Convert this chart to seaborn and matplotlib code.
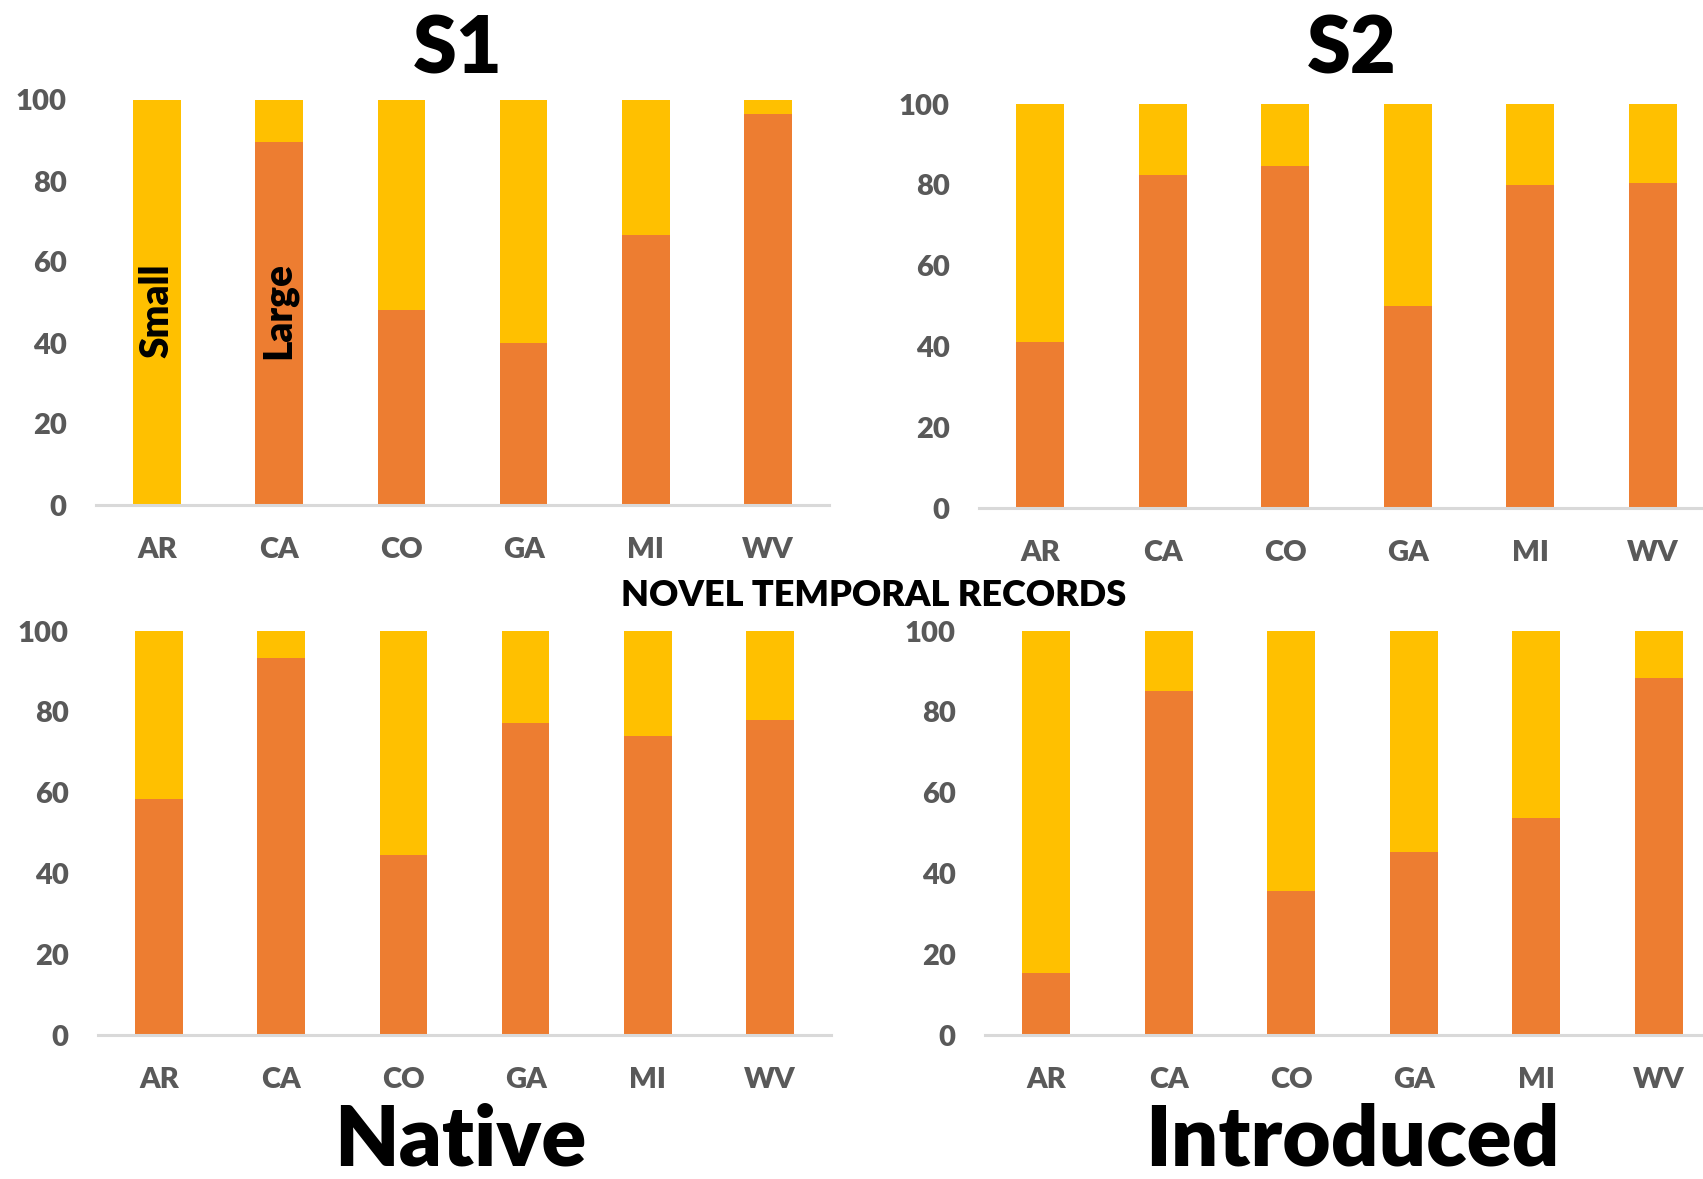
import matplotlib
matplotlib.use("Agg")
import matplotlib.pyplot as plt
import pandas as pd
import seaborn as sns

# Percentage of records by range size, per state
states = ["AR", "CA", "CO", "GA", "MI", "WV"]

large_s1 = [0.0, 89.6, 48.2, 39.9, 66.6, 96.6]
small_s1 = [100.0, 10.4, 51.8, 60.1, 33.4, 3.4]

large_s2 = [41.0, 82.4, 84.7, 49.9, 80.0, 80.4]
small_s2 = [59.0, 17.6, 15.3, 50.1, 20.0, 19.6]

large_native = [58.4, 93.2, 44.5, 77.2, 73.9, 77.9]
small_native = [41.6, 6.8, 55.5, 22.8, 26.1, 22.1]

large_introduced = [15.4, 85.2, 35.7, 45.3, 53.8, 88.4]
small_introduced = [84.6, 14.8, 64.3, 54.7, 46.2, 11.6]

y_ticks = [0, 20, 40, 60, 80, 100]

ORANGE = "#ED7D31"
YELLOW = "#FFC000"
TICK_GREY = "#595959"
AXIS_GREY = "#D9D9D9"

sns.set_theme(style="white")
plt.rcParams["font.family"] = ["Lato", "DejaVu Sans"]

fig = plt.figure(figsize=(17.03, 11.79), dpi=100)
W, H = 1703.0, 1179.0


def panel_axes(left_px, right_px, zero_px, hundred_px):
    return fig.add_axes([left_px / W, 1 - zero_px / H,
                         (right_px - left_px) / W, (zero_px - hundred_px) / H])


def stacked_panel(ax, large, small):
    df = pd.DataFrame({"state": states, "large": large, "small": small})
    df["total"] = df["large"] + df["small"]
    sns.barplot(data=df, x="state", y="total", order=states, color=YELLOW,
                width=0.39, linewidth=0, saturation=1, ax=ax)
    sns.barplot(data=df, x="state", y="large", order=states, color=ORANGE,
                width=0.39, linewidth=0, saturation=1, ax=ax)
    ax.set_xlim(-0.5, 5.5)
    ax.set_ylim(0, 100)
    ax.set_xticks(range(len(states)), labels=states, fontweight="heavy",
                  fontsize=21, color=TICK_GREY)
    ax.set_yticks(y_ticks, labels=[str(v) for v in y_ticks],
                  fontweight="heavy", fontsize=21, color=TICK_GREY)
    ax.set_xlabel("")
    ax.set_ylabel("")
    for side in ("top", "right", "left"):
        ax.spines[side].set_visible(False)
    ax.spines["bottom"].set_color(AXIS_GREY)
    ax.spines["bottom"].set_linewidth(2.2)
    ax.tick_params(axis="both", length=0)
    ax.tick_params(axis="x", pad=23)
    ax.tick_params(axis="y", pad=21)
    for p in ax.patches:
        p.set_clip_on(False)


ax_s1 = panel_axes(96, 829, 505, 100)
ax_s2 = panel_axes(979, 1714, 508, 104)
ax_nat = panel_axes(98, 831, 1035, 631)
ax_int = panel_axes(985, 1720, 1035, 631)

stacked_panel(ax_s1, large_s1, small_s1)
stacked_panel(ax_s2, large_s2, small_s2)
stacked_panel(ax_nat, large_native, small_native)
stacked_panel(ax_int, large_introduced, small_introduced)

# Series labels written inside the first two bars
ax_s1.text(0, 48, "Small", rotation=90, ha="center", va="center",
           fontsize=28, fontweight="heavy", color="black")
ax_s1.text(1, 48, "Large", rotation=90, ha="center", va="center",
           fontsize=28, fontweight="heavy", color="black")

# Panel headings
fig.text(458 / W, 1 - 73 / H, "S1", ha="center", va="baseline",
         fontsize=57, fontweight="heavy", color="black")
fig.text(1352 / W, 1 - 73 / H, "S2", ha="center", va="baseline",
         fontsize=57, fontweight="heavy", color="black")
fig.text(460 / W, 1 - 1165 / H, "Native", ha="center", va="baseline",
         fontsize=60, fontweight="heavy", color="black")
fig.text(1352 / W, 1 - 1165 / H, "Introduced", ha="center", va="baseline",
         fontsize=60, fontweight="heavy", color="black")
fig.text(874 / W, 1 - 606 / H, "NOVEL TEMPORAL RECORDS", ha="center",
         va="baseline", fontsize=26, fontweight="heavy", color="black")

fig.savefig("out.png", dpi=100, facecolor="white")
